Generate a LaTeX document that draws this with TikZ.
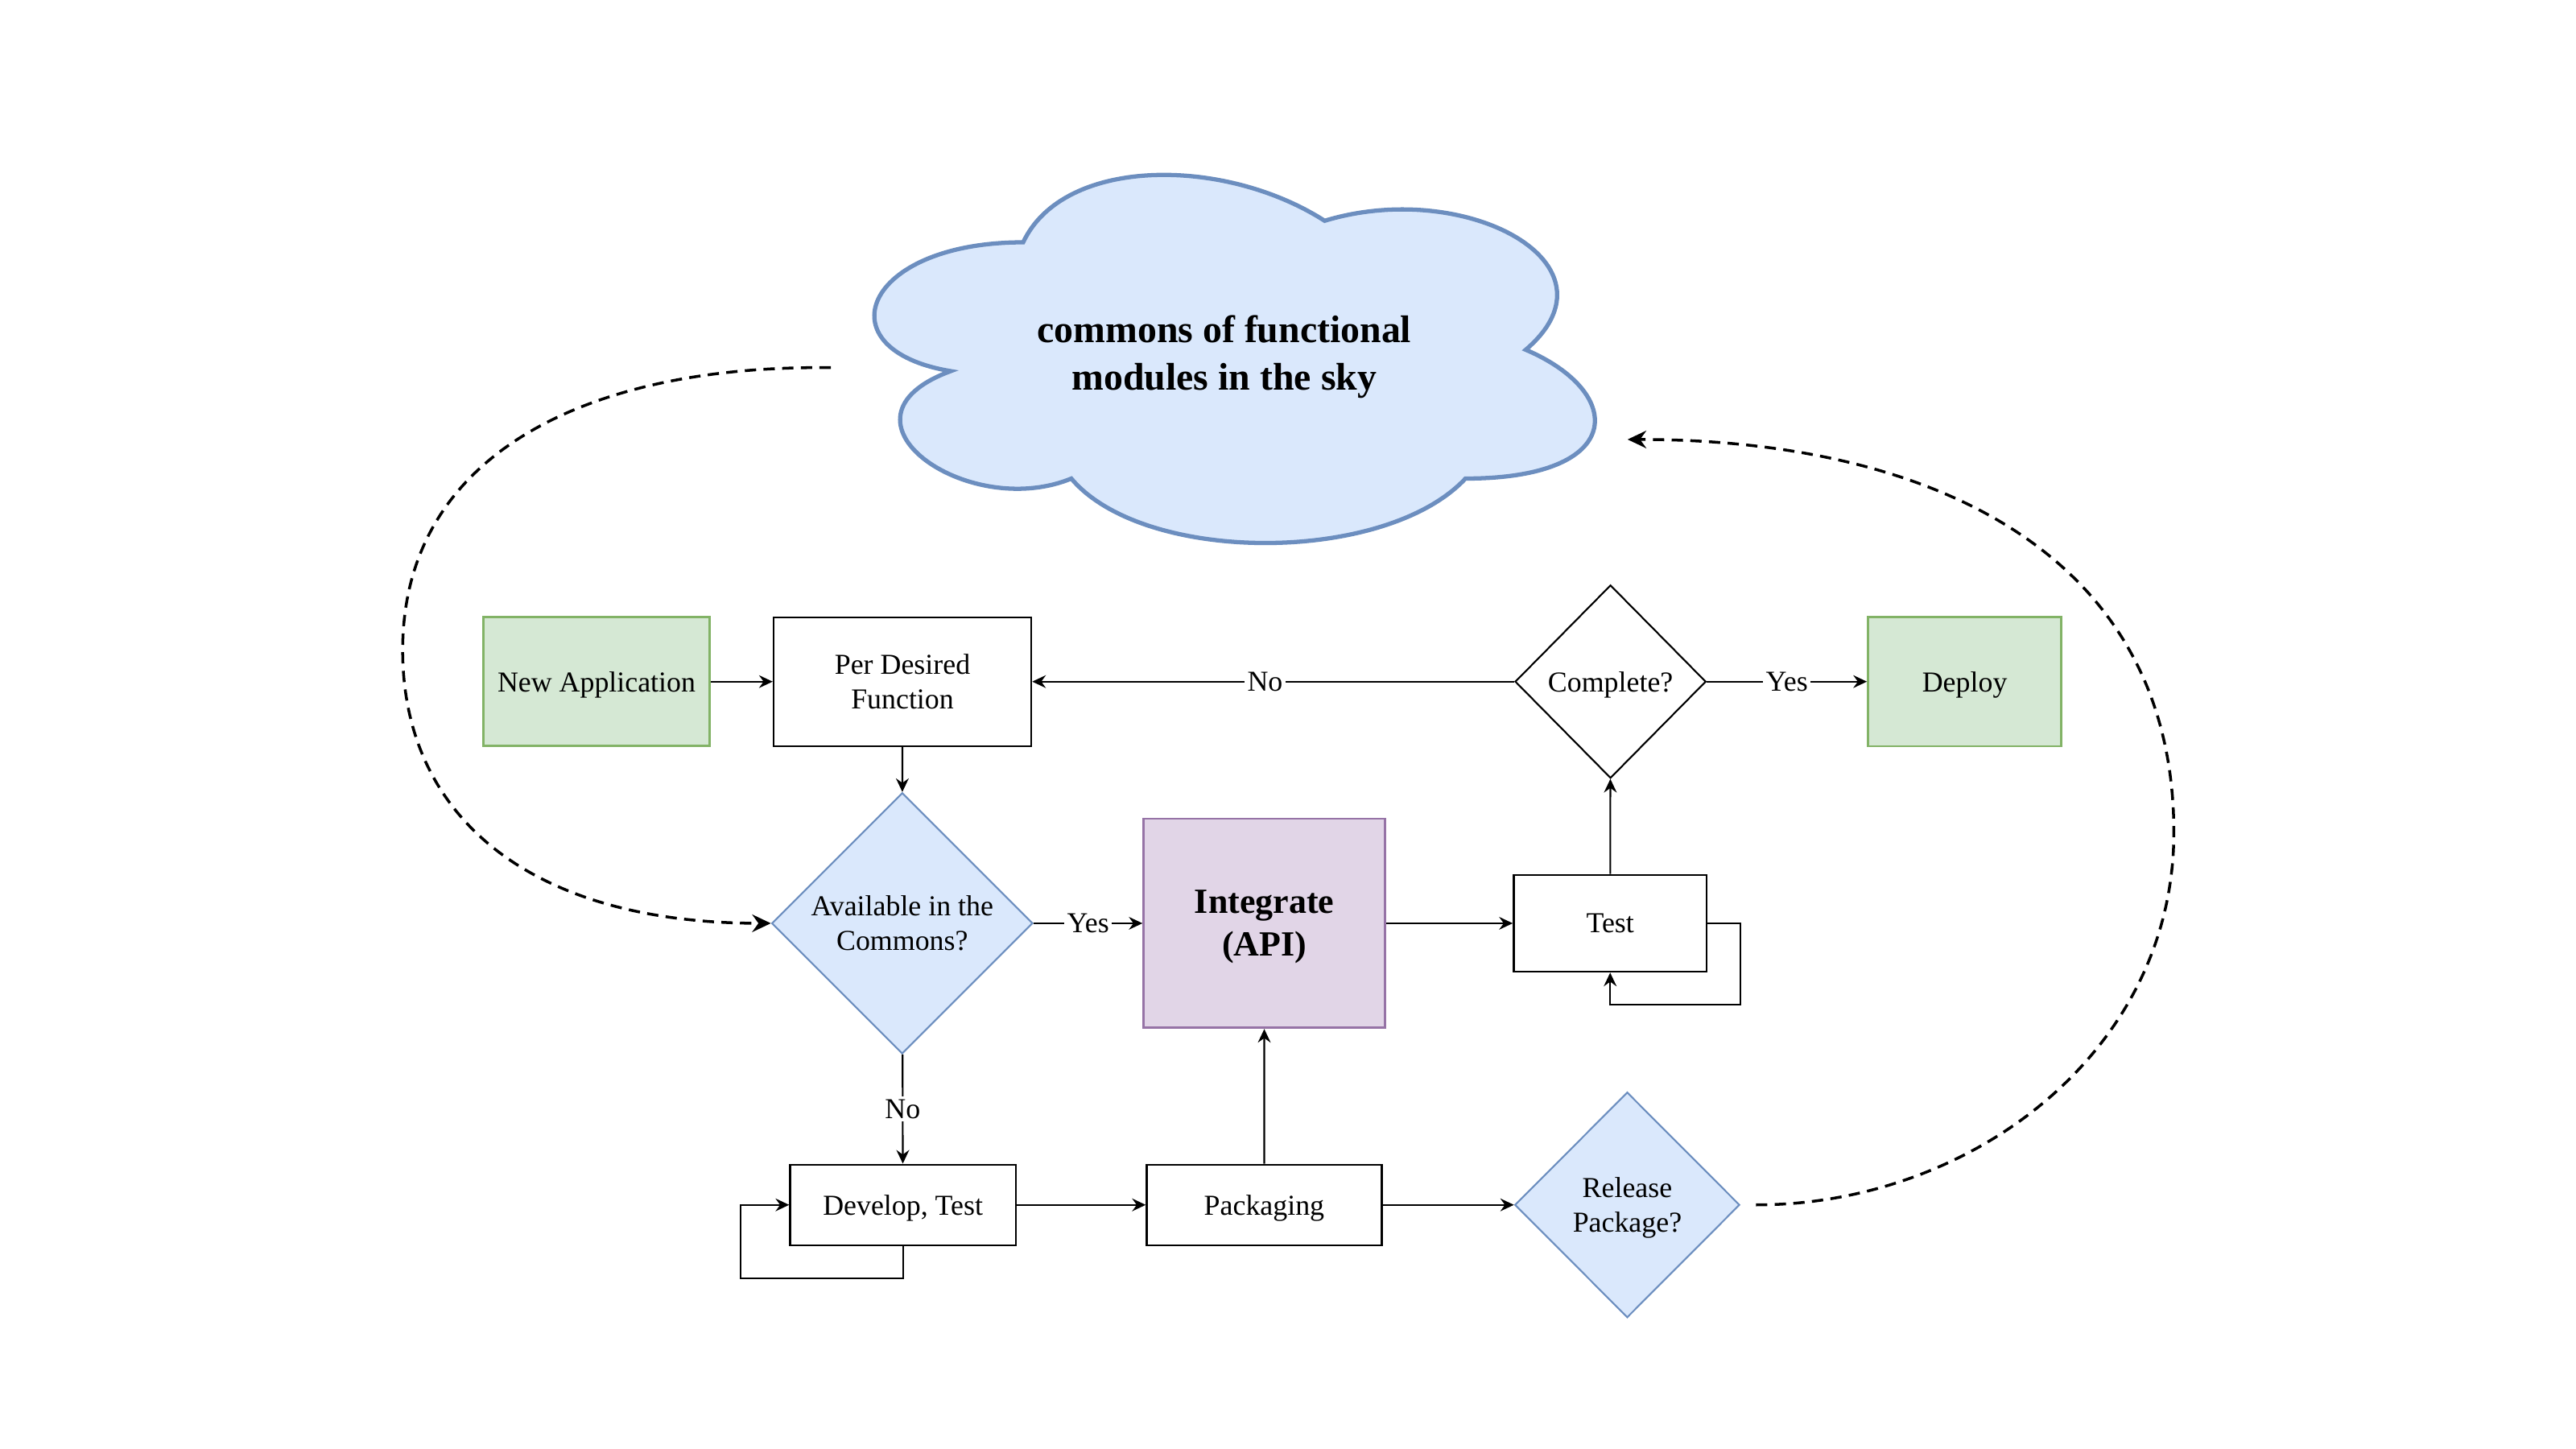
\documentclass[tikz,border=0pt]{standalone}
\usepackage{fontspec}
\setmainfont{Liberation Serif}
\usetikzlibrary{shapes.geometric, arrows.meta, calc}
\newlength\dunit
\setlength\dunit{0.020408cm}
\definecolor{gfill}{HTML}{D5E8D4}
\definecolor{gline}{HTML}{82B366}
\definecolor{bfill}{HTML}{DAE8FC}
\definecolor{bline}{HTML}{6C8EBF}
\definecolor{pfill}{HTML}{E1D5E7}
\definecolor{pline}{HTML}{9673A6}
\tikzset{
  base/.style={align=center, font=\fontsize{10.2}{12.2}\selectfont, inner sep=0pt,
    text depth=0pt, line width=0.7pt},
  plainbox/.style={base, rectangle, draw=black, fill=white},
  greenbox/.style={base, rectangle, draw=gline, fill=gfill, line width=0.8pt},
  purplebox/.style={base, rectangle, draw=pline, fill=pfill, line width=0.8pt,
    font=\bfseries\fontsize{12.5}{15.1}\selectfont},
  bluedia/.style={base, diamond, draw=bline, fill=bfill, line width=0.6pt},
  whitedia/.style={base, diamond, draw=black, fill=white, line width=0.6pt},
  conn/.style={line width=0.6pt, -{Stealth[length=4.8pt,width=4.5pt,inset=1.6pt]}},
  dashconn/.style={line width=1pt, dash pattern=on 4pt off 2.6pt,
    -{Stealth[length=6.6pt,width=6.2pt,inset=2.2pt]}},
  lbl/.style={fill=white, inner sep=1pt, font=\fontsize{10.2}{12.2}\selectfont},
  cloudtext/.style={align=center, inner sep=0pt, text depth=0pt,
    font=\bfseries\fontsize{13.6}{16.8}\selectfont}
}
\begin{document}
\begin{tikzpicture}[x=\dunit, y=-\dunit]
\fill[white] (0,0) rectangle (1568,882);
\useasboundingbox (0,0) rectangle (1568,882);

% cloud
\filldraw[draw=bline, fill=bfill, line width=1.5pt, line join=miter]
  (622.8,147.5)
  .. controls (524.9,147.5) and (500.4,212.9) .. (578.7,225.9)
  .. controls (500.4,254.7) and (588.5,317.4) .. (652.1,291.3)
  .. controls (696.2,343.6) and (843.1,343.6) .. (892.0,291.3)
  .. controls (989.9,291.3) and (989.9,239.0) .. (928.7,212.9)
  .. controls (989.9,160.6) and (892.0,108.3) .. (806.3,134.4)
  .. controls (745.2,95.2) and (647.3,95.2) .. (622.8,147.5) -- cycle;
\node[cloudtext] (cloud) at (745.2,214.5) {commons of functional\\modules in the sky};

% nodes
\node[greenbox, minimum width=137.7\dunit, minimum height=78.4\dunit] (newapp) at (363.1,414.9) {New Application};
\node[plainbox, minimum width=156.8\dunit, minimum height=78.4\dunit] (per) at (549.3,414.9) {Per Desired\\Function};
\node[whitedia, minimum width=116.2\dunit, minimum height=117.6\dunit] (complete) at (980.3,414.9) {Complete?};
\node[greenbox, minimum width=117.7\dunit, minimum height=78.6\dunit] (deploy) at (1195.9,414.9) {Deploy};
\node[bluedia, minimum width=158.9\dunit, minimum height=158.9\dunit] (avail) at (549.2,562) {Available in the\\Commons?};
\node[purplebox, minimum width=147\dunit, minimum height=127.3\dunit] (integ) at (769.6,562) {Integrate\\(API)};
\node[plainbox, minimum width=117.4\dunit, minimum height=58.9\dunit] (test) at (980.1,562) {Test};
\node[plainbox, minimum width=137.3\dunit, minimum height=49\dunit] (dev) at (549.6,733.4) {Develop, Test};
\node[plainbox, minimum width=143\dunit, minimum height=49\dunit] (pack) at (769.5,733.4) {Packaging};
\node[bluedia, minimum width=136.9\dunit, minimum height=137.2\dunit] (rel) at (990.5,733.4) {Release\\Package?};

% connectors
\draw[conn] (newapp) -- (per);
\draw[conn] (complete) -- node[lbl, pos=0.517] {No} (per);
\draw[conn] (complete) -- node[lbl] {Yes} (deploy);
\draw[conn] (per) -- (avail);
\draw[conn] (avail) -- node[lbl] {Yes} (integ);
\draw[conn] (avail) -- node[lbl] {No} (dev);
\draw[conn] (integ) -- (test);
\draw[conn] (test) -- (complete);
\draw[conn] (test.east) -- ++(19.9,0) |- ($(test.south)+(0,19.3)$) -- (test.south);
\draw[conn] (dev.south) -- ++(0,19.5) -| ($(dev.west)+(-29.7,0)$) -- (dev.west);
\draw[conn] (dev) -- (pack);
\draw[conn] (pack) -- (rel);
\draw[conn] (pack) -- (integ);

% dashed connectors
\coordinate (cl) at (505.7,223.8);
\draw[dashconn] (cl) .. controls (360,222) and (245.1,275) .. (245.1,395.8)
  .. controls (245.1,495) and (320,562) .. (avail.west);
\coordinate (rs) at ($(rel.east)+(9.4,0)$);
\coordinate (cr) at (990.7,267.5);
\draw[dashconn] (rs) .. controls (1200,733.4) and (1323.2,640) .. (1323.2,506.7)
  .. controls (1323.2,340) and (1180,267.5) .. (cr);
\end{tikzpicture}
\end{document}
